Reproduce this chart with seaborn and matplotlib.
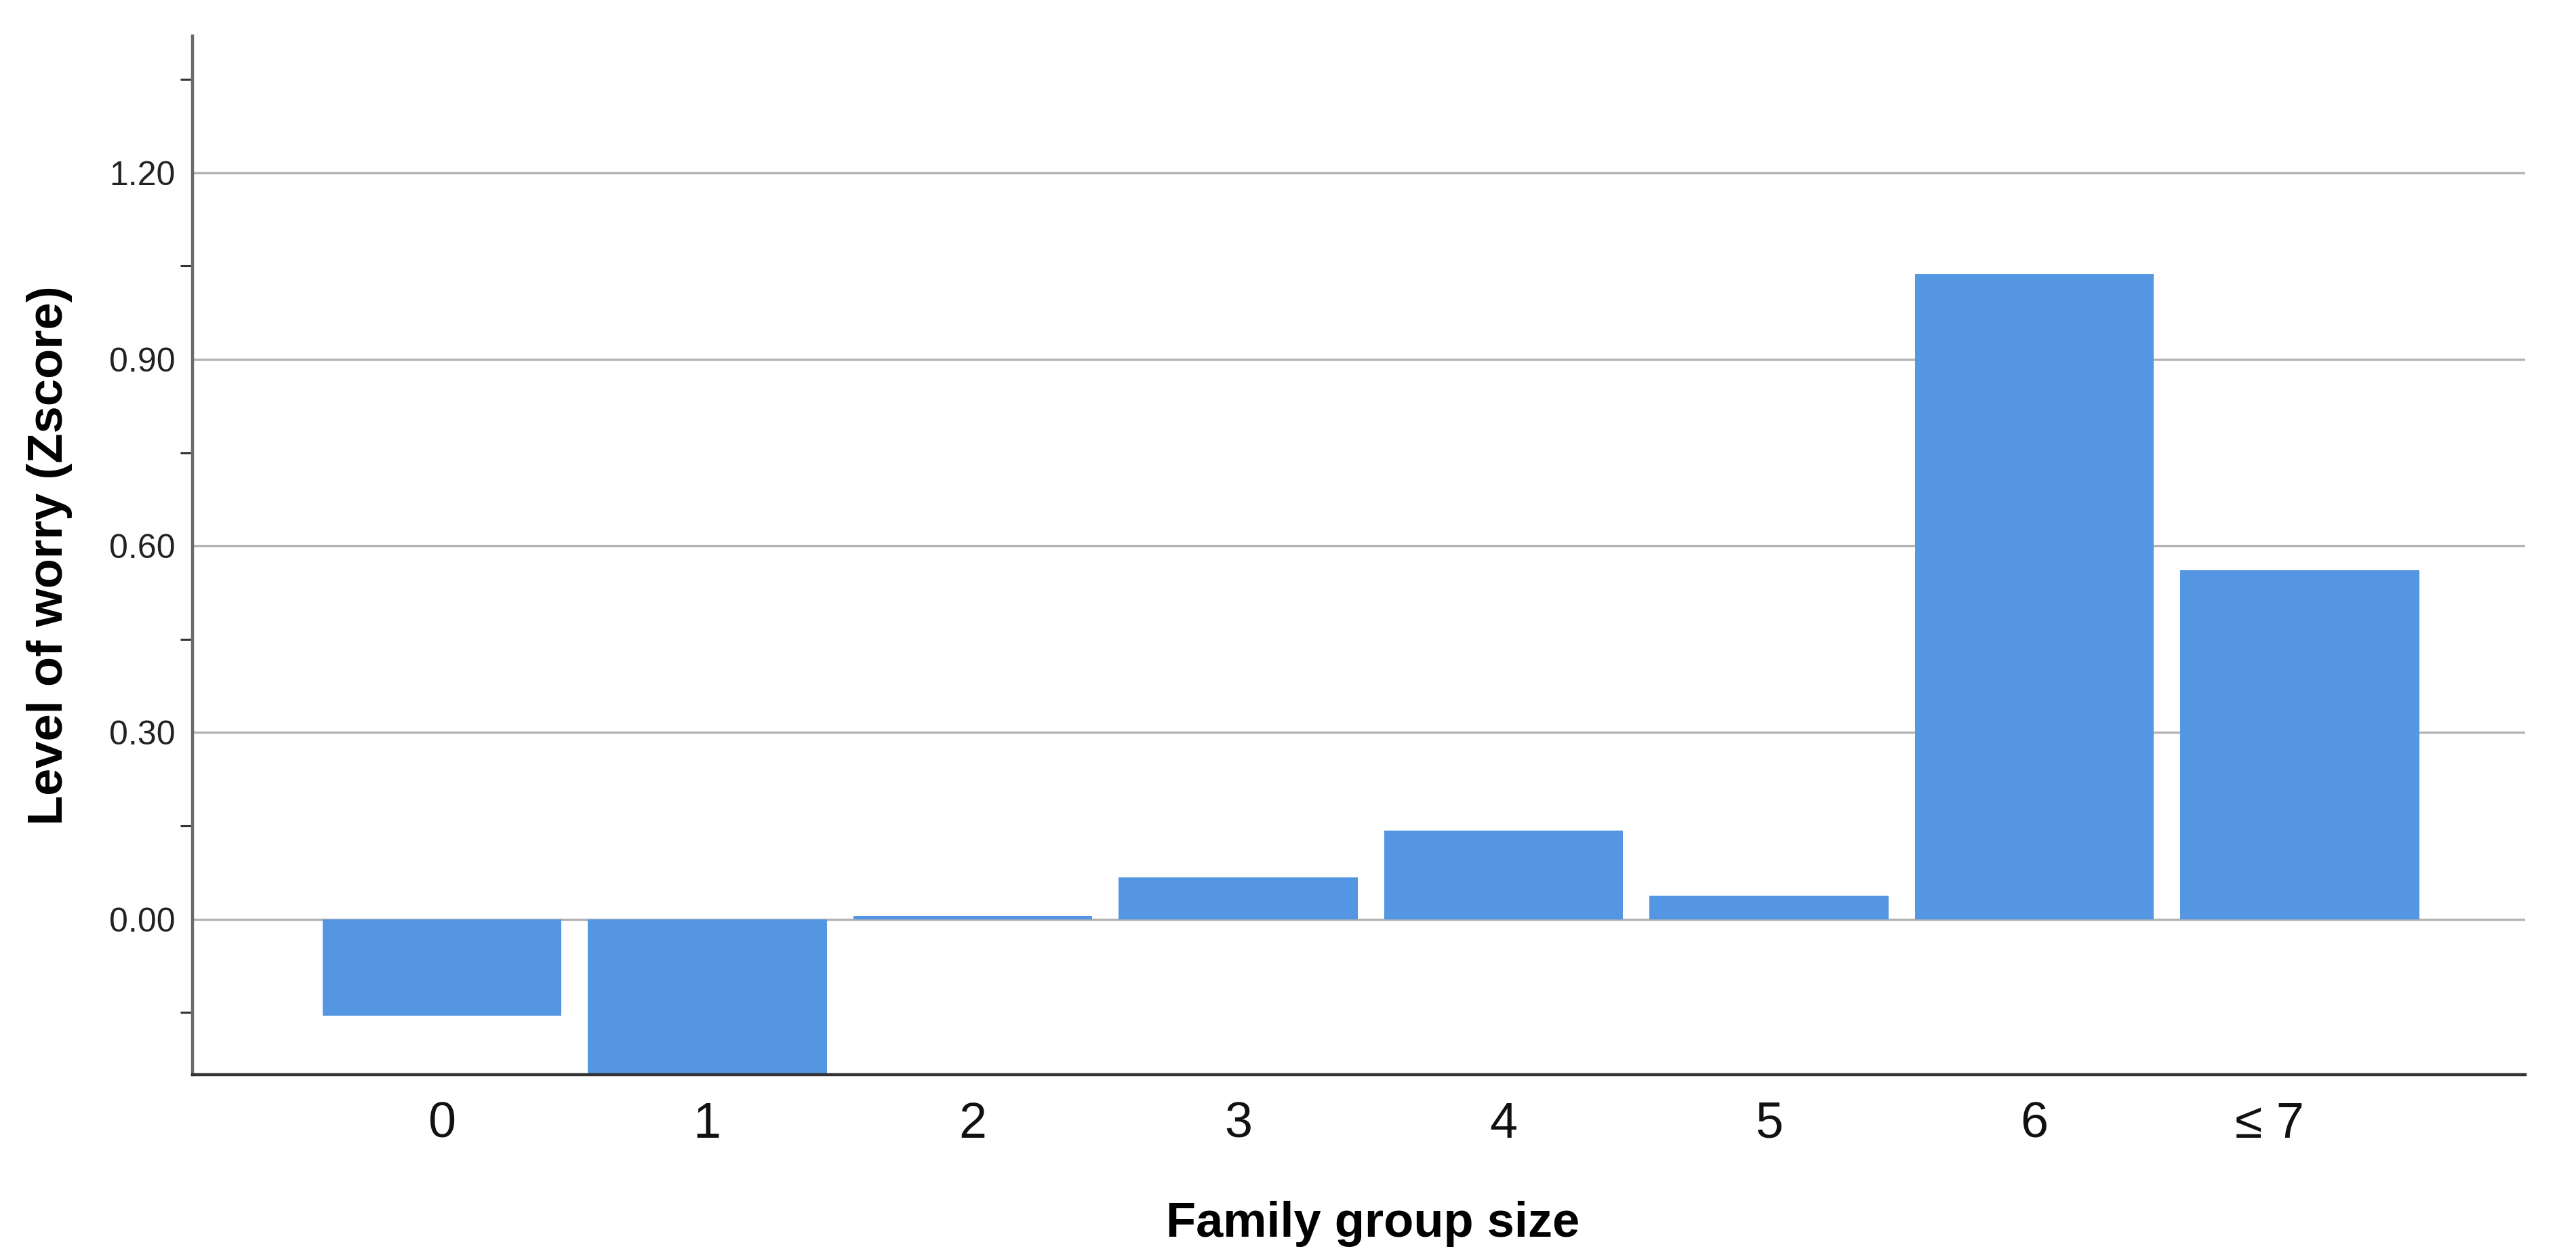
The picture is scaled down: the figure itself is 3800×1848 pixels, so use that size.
import matplotlib
matplotlib.use("Agg")
import matplotlib.pyplot as plt
from matplotlib.ticker import MultipleLocator
from matplotlib.transforms import ScaledTranslation
import seaborn as sns
import pandas as pd

categories = ["0", "1", "2", "3", "4", "5", "6", "\u2264 7"]
worry_z = [-0.155, -0.27, 0.005, 0.067, 0.143, 0.038, 1.037, 0.561]

x_label = "Family group size"
y_label = "Level of worry (Zscore)"

sns.set_theme(style="white")
plt.rcParams["font.family"] = ["Liberation Sans", "DejaVu Sans"]

df = pd.DataFrame({"size": categories, "z": worry_z})

fig = plt.figure(figsize=(38, 18.48), dpi=100)
ax = fig.add_axes([0.0747, 0.1423, 0.9803 - 0.0747, 0.9713 - 0.1423])

sns.barplot(data=df, x="size", y="z", order=categories, color="#5596E3",
            saturation=1, width=0.9, ax=ax, zorder=3, linewidth=0)

ax.set_xlim(-0.94, 7.85)
ax.set_ylim(-0.25, 1.42)

ax.yaxis.set_major_locator(MultipleLocator(0.30))
ax.yaxis.set_minor_locator(MultipleLocator(0.15))
ax.set_yticks([0.0, 0.3, 0.6, 0.9, 1.2])
ax.set_yticklabels(["0.00", "0.30", "0.60", "0.90", "1.20"])
ax.yaxis.grid(True, which="major", color="#b3b3b3", linewidth=2.4, zorder=0)
ax.set_axisbelow(True)

ax.tick_params(axis="y", which="major", length=0, pad=18, labelsize=36, labelcolor="#222222")
ax.tick_params(axis="y", which="minor", left=True, length=13, width=2.2, color="#333333")
ax.tick_params(axis="x", which="both", length=0, pad=28, labelsize=53, labelcolor="#111111")

for s in ["top", "right"]:
    ax.spines[s].set_visible(False)
ax.spines["left"].set_color("#6a6a6a")
ax.spines["left"].set_linewidth(3.2)
ax.spines["bottom"].set_color("#333333")
ax.spines["bottom"].set_linewidth(3.2)
ax.spines["bottom"].set_zorder(4)

# last category label sits slightly left of its bar in the reference
last_lbl = ax.get_xticklabels()[-1]
last_lbl.set_transform(last_lbl.get_transform() +
                       ScaledTranslation(-0.44, 0, fig.dpi_scale_trans))

ax.set_xlabel(x_label, fontsize=52, fontweight="bold", color="#000000")
ax.set_ylabel(y_label, fontsize=52, fontweight="bold", color="#000000")
ax.xaxis.label.set_va("center")
ax.yaxis.label.set_va("center")
ax.xaxis.set_label_coords(0.506, -0.1436)
ax.yaxis.set_label_coords(-0.0613, 0.5)

fig.savefig("out.png", dpi=100, facecolor="white")
